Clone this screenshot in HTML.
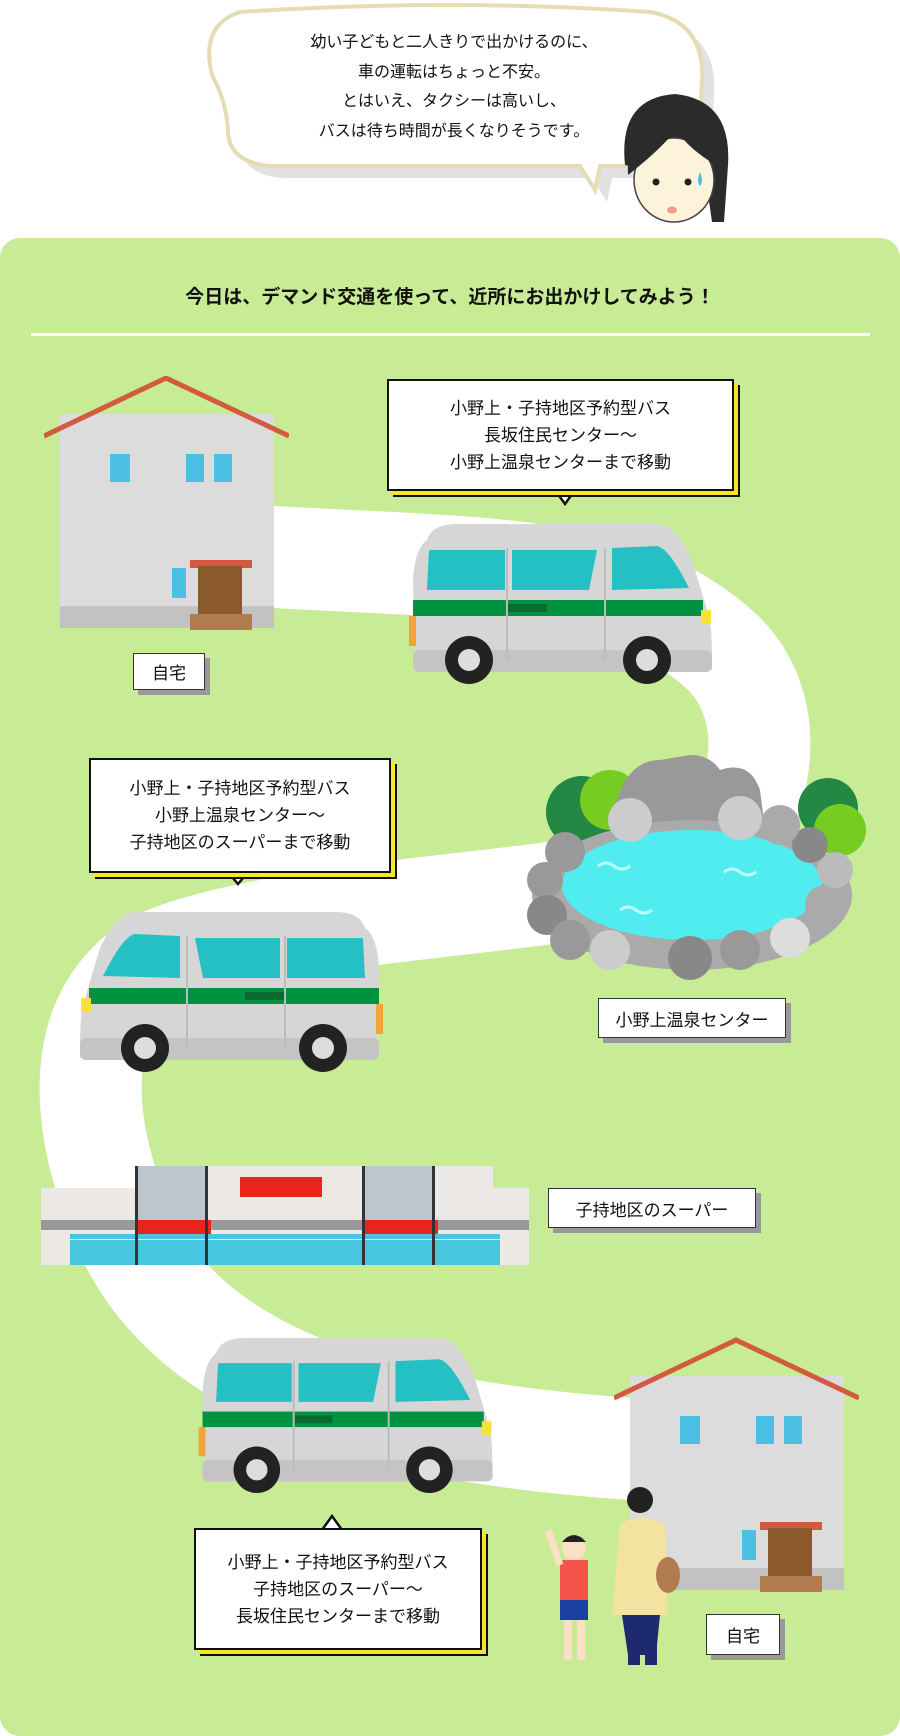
<!DOCTYPE html>
<html><head><meta charset="utf-8"><style>
body{margin:0;background:#fff;}
#w{position:relative;width:900px;height:1736px;overflow:hidden;font-family:"Liberation Sans","Noto Sans CJK JP",sans-serif;color:#111;}
.abs{position:absolute;}
.lbl{position:absolute;background:#fff;border:1.5px solid #333;box-shadow:5px 5px 0 #999;font-size:17px;display:flex;align-items:center;justify-content:center;box-sizing:border-box;}
.co{position:absolute;background:#fff;border:2.5px solid #111;box-shadow:4px 4px 0 #f5e62a,6px 6px 0 #111;font-size:17px;line-height:27px;text-align:center;box-sizing:border-box;display:flex;align-items:center;justify-content:center;}
</style></head><body><div id="w">
<svg class="abs" style="left:0;top:0" width="900" height="1736">
<defs>
<symbol id="van" viewBox="0 0 310 165">
<path d="M20 20 Q25 4 50 4 L250 4 Q268 4 285 40 L300 90 Q305 100 305 140 L305 150 L8 150 L6 60 Q8 28 20 20Z" fill="#d6d6d6"/>
<rect x="6" y="130" width="299" height="22" rx="6" fill="#c4c4c4"/>
<path d="M22 30 L98 30 L98 70 L20 70Z" fill="#25c0c4"/>
<path d="M105 30 L190 30 L182 70 L105 70Z" fill="#25c0c4"/>
<path d="M205 28 L250 26 Q262 28 282 68 L205 70Z" fill="#25c0c4"/>
<rect x="6" y="80" width="290" height="16" fill="#009240"/>
<rect x="100" y="84" width="40" height="8" fill="#0a6b30"/>
<path d="M100 28 V140 M198 28 V140" stroke="#bbb" stroke-width="2"/>
<rect x="294" y="90" width="10" height="14" fill="#f7e23b"/>
<rect x="2" y="96" width="7" height="30" fill="#f3a33a"/>
<circle cx="62" cy="140" r="24" fill="#222"/><circle cx="62" cy="140" r="11" fill="#ddd"/>
<circle cx="240" cy="140" r="24" fill="#222"/><circle cx="240" cy="140" r="11" fill="#ddd"/>
</symbol>
<symbol id="house" viewBox="0 0 245 255">
<rect x="16" y="38" width="214" height="214" fill="#dcdcdc"/>
<rect x="16" y="230" width="214" height="22" fill="#c2c2c2"/>
<path d="M0 60 L122 2 L245 60" fill="none" stroke="#d25a3e" stroke-width="5"/>
<g fill="#4cc0e4"><rect x="66" y="78" width="20" height="28"/><rect x="142" y="78" width="18" height="28"/><rect x="170" y="78" width="18" height="28"/><rect x="128" y="192" width="14" height="30"/></g>
<rect x="146" y="184" width="62" height="8" fill="#d25a3e"/>
<rect x="154" y="190" width="44" height="52" fill="#8a5a2b"/>
<rect x="146" y="238" width="62" height="16" fill="#b07c4e"/>
</symbol>
</defs>
<rect x="0" y="238" width="900" height="1498" rx="20" fill="#c8eb96"/>
<path d="M240 555 C480 570 620 560 720 650 C775 700 770 790 720 850 C650 905 300 900 160 960 C70 1010 80 1120 120 1220 C170 1340 300 1430 650 1450" fill="none" stroke="#fff" stroke-width="102"/>
<rect x="31" y="333" width="839" height="3" fill="#fff"/>
<!-- bubble -->
<g>
<path d="M240 12 Q450 -2 650 12 Q705 22 702 80 Q700 110 702 135 Q698 166 640 166 L600 166 L595 190 L580 166 L270 166 Q228 162 228 130 Q226 100 212 75 Q200 25 240 12Z" fill="#e2e2e2" transform="translate(12,12)"/>
<path d="M240 12 Q450 -2 650 12 Q705 22 702 80 Q700 110 702 135 Q698 166 640 166 L600 166 L595 190 L580 166 L270 166 Q228 162 228 130 Q226 100 212 75 Q200 25 240 12Z" fill="#fff" stroke="#e6dcb4" stroke-width="4"/>
</g>
<!-- girl -->
<path d="M625 165 Q618 98 675 94 Q732 100 728 165 L724 222 L712 222 L706 180 Z" fill="#2b2b2b"/>
<ellipse cx="674" cy="180" rx="40" ry="42" fill="#fdf3da" stroke="#444" stroke-width="1.5"/>
<path d="M628 175 Q625 110 680 110 Q718 118 716 165 Q690 150 676 130 Q660 150 628 175Z" fill="#2b2b2b"/>
<circle cx="656" cy="182" r="3.5" fill="#222"/><circle cx="688" cy="182" r="3.5" fill="#222"/>
<ellipse cx="672" cy="210" rx="5" ry="3.5" fill="#f19a8e"/>
<path d="M700 172 Q696 182 700 186 Q704 182 700 172Z" fill="#4cc0e4"/>
<!-- house1 -->
<use href="#house" x="44" y="376" width="245" height="255"/>
<!-- van1 -->
<use href="#van" x="407" y="520" width="310" height="165"/>
<!-- onsen -->
<g>
<circle cx="582" cy="812" r="36" fill="#228844"/><circle cx="610" cy="800" r="30" fill="#77cc22"/>
<circle cx="828" cy="808" r="30" fill="#228844"/><circle cx="840" cy="830" r="26" fill="#77cc22"/>
<path d="M610 830 Q620 760 660 760 L690 755 Q710 755 720 770 Q750 760 760 790 L765 830Z" fill="#999"/>
<ellipse cx="692" cy="895" rx="160" ry="75" fill="#aaa"/>
<ellipse cx="692" cy="885" rx="130" ry="55" fill="#50ecf0"/>
<g fill="#999"><circle cx="565" cy="852" r="20"/><circle cx="545" cy="880" r="18"/><circle cx="547" cy="915" r="20" fill="#888"/><circle cx="570" cy="940" r="20"/><circle cx="610" cy="950" r="20" fill="#ccc"/><circle cx="690" cy="958" r="22" fill="#888"/><circle cx="740" cy="950" r="20"/><circle cx="790" cy="938" r="20" fill="#ddd"/><circle cx="825" cy="905" r="20" fill="#aaa"/><circle cx="835" cy="870" r="18" fill="#bbb"/><circle cx="810" cy="845" r="18" fill="#888"/><circle cx="780" cy="825" r="20" fill="#aaa"/><circle cx="630" cy="820" r="22" fill="#ccc"/><circle cx="740" cy="818" r="22" fill="#ccc"/></g>
<g fill="#fff"><path d="M598 866 q8 -6 16 0 q8 6 16 0" stroke="#bff" stroke-width="3" fill="none"/><path d="M724 872 q8 -6 16 0 q8 6 16 0" stroke="#bff" stroke-width="3" fill="none"/><path d="M620 910 q8 -6 16 0 q8 6 16 0" stroke="#bff" stroke-width="3" fill="none"/></g>
</g>
<!-- van2 mirrored -->
<g transform="translate(385,908) scale(-1,1)"><use href="#van" x="0" y="0" width="310" height="165"/></g>
<!-- supermarket -->
<g>
<rect x="41" y="1188" width="488" height="77" fill="#ebe8e6"/>
<rect x="135" y="1166" width="358" height="30" fill="#ebe8e6"/>
<rect x="135" y="1166" width="70" height="60" fill="#bcc6cc"/><rect x="362" y="1166" width="70" height="60" fill="#bcc6cc"/>
<rect x="41" y="1220" width="488" height="10" fill="#999"/>
<rect x="135" y="1220" width="76" height="14" fill="#e8241c"/><rect x="362" y="1220" width="76" height="14" fill="#e8241c"/>
<rect x="70" y="1240" width="430" height="25" fill="#48c6e0"/>
<rect x="70" y="1234" width="430" height="5" fill="#48c6e0"/>
<g fill="#333"><rect x="135" y="1166" width="3" height="99"/><rect x="205" y="1166" width="3" height="99"/><rect x="362" y="1166" width="3" height="99"/><rect x="432" y="1166" width="3" height="99"/></g>
<rect x="240" y="1177" width="82" height="20" fill="#e8241c"/>
</g>
<!-- van3 -->
<use href="#van" x="192" y="1334" width="310" height="160"/>
<!-- house2 -->
<use href="#house" x="614" y="1337" width="245" height="257"/>
<!-- people -->
<g>
<circle cx="640" cy="1500" r="13" fill="#222"/>
<path d="M620 1525 Q640 1510 665 1525 L668 1615 L612 1615Z" fill="#f4e3a0"/>
<path d="M622 1615 L660 1615 L656 1655 L628 1655Z" fill="#1e2a6e"/>
<rect x="628" y="1615" width="12" height="50" fill="#1e2a6e"/><rect x="645" y="1615" width="12" height="50" fill="#1e2a6e"/>
<ellipse cx="668" cy="1575" rx="12" ry="18" fill="#b07c4e"/>
<circle cx="574" cy="1548" r="12" fill="#fbe0c4"/><path d="M562 1542 Q574 1528 586 1542Z" fill="#222"/>
<rect x="560" y="1560" width="28" height="40" fill="#f5524a"/>
<rect x="560" y="1600" width="28" height="20" fill="#1a3fa0"/>
<rect x="564" y="1620" width="8" height="40" fill="#fbe0c4"/><rect x="577" y="1620" width="8" height="40" fill="#fbe0c4"/>
<path d="M560 1565 L548 1530" stroke="#fbe0c4" stroke-width="7"/>
</g>
<!-- callout tails -->
<path d="M555 490 L565 504 L575 490" fill="#fff" stroke="#111" stroke-width="2.5"/>
<path d="M228 872 L238 884 L248 872" fill="#fff" stroke="#111" stroke-width="2.5"/>
<path d="M322 1530 L332 1516 L342 1530" fill="#fff" stroke="#111" stroke-width="2.5"/>
</svg>
<div class="abs" style="left:254px;top:28px;width:400px;text-align:center;font-size:16px;line-height:29.5px;">幼い子どもと二人きりで出かけるのに、<br>車の運転はちょっと不安。<br>とはいえ、タクシーは高いし、<br>バスは待ち時間が長くなりそうです。</div>
<div class="abs" style="left:0;top:282px;width:900px;text-align:center;font-size:19px;font-weight:bold;">今日は、デマンド交通を使って、近所にお出かけしてみよう！</div>
<div class="lbl" style="left:133px;top:653px;width:72px;height:37px;">自宅</div>
<div class="co" style="left:387px;top:379px;width:347px;height:112px;">小野上・子持地区予約型バス<br>長坂住民センター～<br>小野上温泉センターまで移動</div>
<div class="co" style="left:89px;top:758px;width:302px;height:115px;">小野上・子持地区予約型バス<br>小野上温泉センター～<br>子持地区のスーパーまで移動</div>
<div class="lbl" style="left:598px;top:998px;width:188px;height:40px;">小野上温泉センター</div>
<div class="lbl" style="left:548px;top:1188px;width:208px;height:40px;">子持地区のスーパー</div>
<div class="co" style="left:194px;top:1528px;width:288px;height:122px;">小野上・子持地区予約型バス<br>子持地区のスーパー～<br>長坂住民センターまで移動</div>
<div class="lbl" style="left:706px;top:1614px;width:74px;height:41px;">自宅</div>
</div></body></html>
